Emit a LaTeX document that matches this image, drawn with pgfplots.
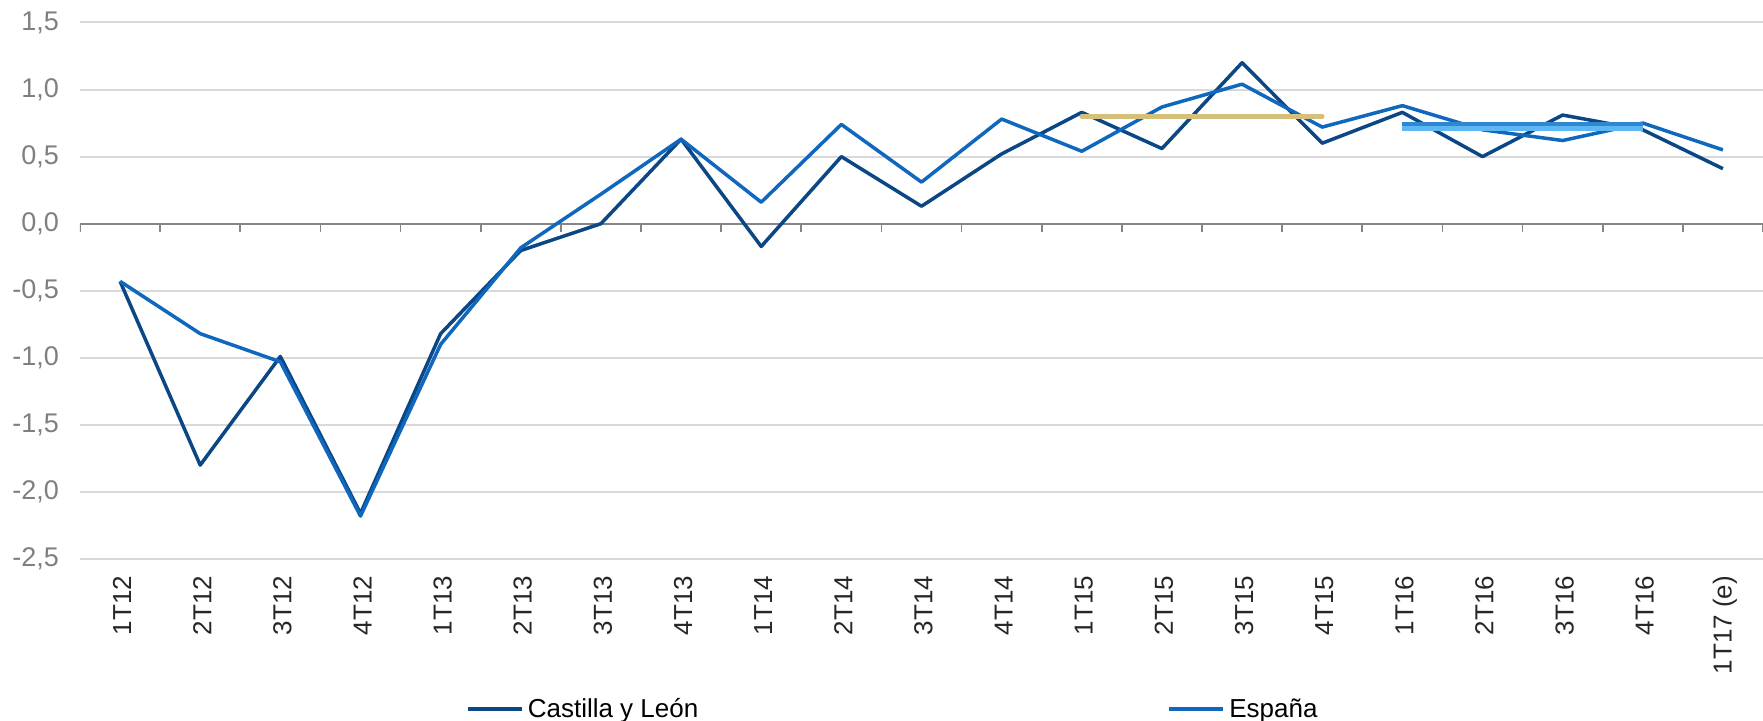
\documentclass[border=0pt]{standalone}
\usepackage{pgfplots}
\pgfplotsset{compat=1.18}
\usepackage{fontspec}
\setmainfont{Liberation Sans}
\definecolor{cylBlue}{HTML}{0A4784}
\definecolor{espBlue}{HTML}{0F67BE}
\definecolor{avgKhaki}{HTML}{D4C07A}
\definecolor{avgMid}{HTML}{2F86D1}
\definecolor{avgLight}{HTML}{5DB7F2}
\definecolor{gridGrey}{HTML}{D9D9D9}
\definecolor{axisGrey}{HTML}{868686}
\definecolor{labelGrey}{HTML}{7F7F7F}

\begin{document}
\begin{tikzpicture}[font=\fontsize{13pt}{15pt}\selectfont]
\begin{axis}[
    scale only axis,
    width=841.5pt, height=268.25pt,
    xmin=-0.5, xmax=20.5,
    ymin=-2.5, ymax=1.5,
    axis line style={draw=none},
    major tick length=0pt,
    xtick={0,...,20},
    xticklabels={1T12,2T12,3T12,4T12,1T13,2T13,3T13,4T13,1T14,2T14,3T14,4T14,
                 1T15,2T15,3T15,4T15,1T16,2T16,3T16,4T16,1T17 (e)},
    % shifts act in the rotated frame: xshift moves down, yshift sideways
    xticklabel style={rotate=90, anchor=east, xshift=-5pt, yshift=-1pt,
        text=black!85},
    ytick={-2.5,-2,-1.5,-1,-0.5,0,0.5,1,1.5},
    yticklabels={{-2,5},{-2,0},{-1,5},{-1,0},{-0,5},{0,0},{0,5},{1,0},{1,5}},
    yticklabel style={text=labelGrey, xshift=-7pt,
        font=\fontsize{13.5pt}{15pt}\selectfont},
    ymajorgrids,
    grid style={draw=gridGrey, line width=1pt},
    legend columns=2,
    legend style={at={(0.229,-0.28)}, anchor=west, draw=none, fill=none,
        inner sep=0pt,
        /tikz/every even column/.append style={column sep=232.5pt}},
    legend image code/.code={\draw[#1, line width=2pt] (0pt,0pt) -- (27pt,0pt);},
    every axis plot/.append style={line width=1.75pt, line join=round},
]
% x axis line at zero with tick marks between categories
\draw[axisGrey, line width=1pt] (axis cs:-0.5,0) -- (axis cs:20.5,0);
\pgfplotsinvokeforeach{-0.5,0.5,...,20.5}{
  \draw[axisGrey, line width=0.8pt] (axis cs:#1,0) -- ++(0pt,-4pt);
}

\addplot[cylBlue] coordinates {
 (0,-0.43) (1,-1.80) (2,-0.99) (3,-2.16) (4,-0.82) (5,-0.20) (6,0.00)
 (7,0.63) (8,-0.17) (9,0.50) (10,0.13) (11,0.52) (12,0.83) (13,0.56)
 (14,1.20) (15,0.60) (16,0.83) (17,0.50) (18,0.81) (19,0.70) (20,0.41)};
\addlegendentry{Castilla y León}

\addplot[espBlue] coordinates {
 (0,-0.43) (1,-0.82) (2,-1.03) (3,-2.18) (4,-0.90) (5,-0.18) (6,0.22)
 (7,0.63) (8,0.16) (9,0.74) (10,0.31) (11,0.78) (12,0.54) (13,0.87)
 (14,1.04) (15,0.72) (16,0.88) (17,0.70) (18,0.62) (19,0.75) (20,0.55)};
\addlegendentry{España}

% yearly averages
\addplot[avgKhaki, line width=2.4pt, line cap=round, forget plot]
  coordinates {(12,0.80) (15,0.80)};
\addplot[avgMid, line width=2.4pt, forget plot]
  coordinates {(16,0.74) (19,0.74)};
\addplot[avgLight, line width=2.4pt, forget plot]
  coordinates {(16,0.71) (19,0.71)};

\coordinate (bl) at (rel axis cs:0,0);
\coordinate (tr) at (rel axis cs:1,1);
\end{axis}
\pgfresetboundingbox
\useasboundingbox ([shift={(-40pt,-81pt)}]bl) rectangle ([shift={(0pt,11.25pt)}]tr);
\end{tikzpicture}
\end{document}
